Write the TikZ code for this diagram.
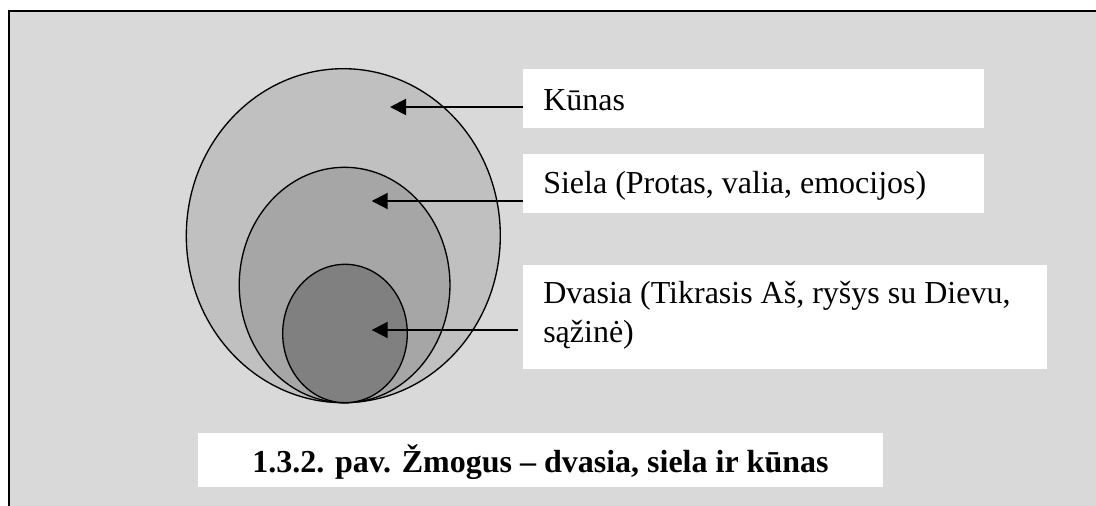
\documentclass[tikz,border=0pt]{standalone}
\usepackage{fontspec}
\setmainfont{Liberation Serif}
\usetikzlibrary{arrows.meta,shapes.geometric}
\newdimen\px \px=0.75pt
\definecolor{bggray}{HTML}{D9D9D9}
\definecolor{outerg}{HTML}{C0C0C0}
\definecolor{midg}{HTML}{A6A6A6}
\definecolor{innerg}{HTML}{808080}
\begin{document}
\begin{tikzpicture}[x=0.75pt,y=-0.75pt,
  layer/.style={ellipse, draw=black, line width=1pt, inner sep=0pt},
  labelbox/.style={fill=white, inner sep=0pt, anchor=north west},
  lbl/.style={font=\fontsize{24}{28.9}\selectfont, inner sep=0pt, anchor=base west, align=left},
  arr/.style={line width=1.5pt, -{Triangle[length=12pt,width=12pt]}}]
\useasboundingbox (0,0) rectangle (1096,506);
\clip (0,0) rectangle (1096,506);
\fill[white] (0,0) rectangle (1096,506);
\draw[line width=1.6pt, fill=bggray] (9,11) rectangle (1120,530);

\node[layer, fill=outerg, minimum width=314\px, minimum height=334\px] (body) at (343.3,235.7) {};
\node[layer, fill=midg, minimum width=210.7\px, minimum height=235.4\px] (soul) at (344.6,285) {};
\node[layer, fill=innerg, minimum width=124.6\px, minimum height=138.4\px] (spirit) at (345,333.5) {};

\node[labelbox, minimum width=461\px, minimum height=59\px] (kbox) at (523,69) {};
\node[labelbox, minimum width=461\px, minimum height=59\px] (sbox) at (523,154) {};
\node[labelbox, minimum width=524\px, minimum height=104\px] (dbox) at (523,265) {};
\node[labelbox, minimum width=685\px, minimum height=54\px] (cbox) at (198,433) {};

\node[lbl] (ktext) at (543,111) {Kūnas};
\node[lbl] (stext) at (543,194) {Siela (Protas, valia, emocijos)};
\node[lbl] (dtext) at (543,342.5) {Dvasia (Tikrasis Aš, ryšys su Dievu,\\ sąžinė)};
\node[lbl, font=\fontsize{24}{28.9}\selectfont\bfseries, anchor=base] (ctext) at (540.5,472) {1.3.2. pav. Žmogus – dvasia, siela ir kūnas};

\coordinate (ktip) at (390,107);
\coordinate (stip) at (371.7,201);
\coordinate (dtip) at (371.7,330);
\draw[arr] (kbox.west |- ktip) -- (ktip);
\draw[arr] (sbox.west |- stip) -- (stip);
\draw[arr] ([xshift=-3.75pt]dbox.west |- dtip) -- (dtip);
\end{tikzpicture}
\end{document}
